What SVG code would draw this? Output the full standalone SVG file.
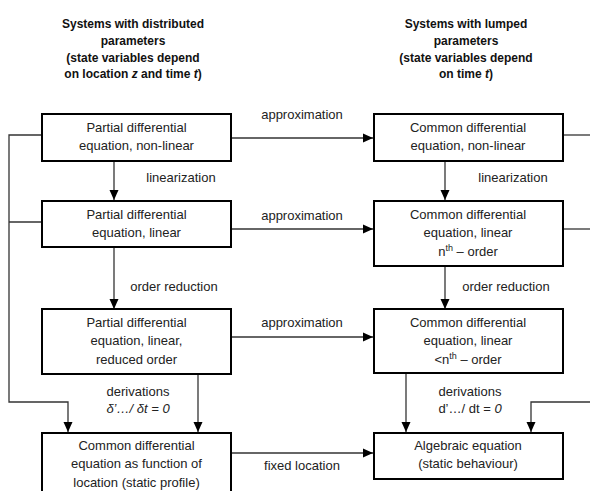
<svg xmlns="http://www.w3.org/2000/svg" width="590" height="491" viewBox="0 0 590 491">
<style>
text{font-family:"Liberation Sans",Arial,sans-serif;font-size:13px;fill:#222;text-anchor:middle}
.h{font-weight:bold;font-size:12px;fill:#111}
.box{fill:#fff;stroke:#000;stroke-width:2}
.c{fill:none;stroke:#333;stroke-width:1.3}
.a{marker-end:url(#arr)}
.i{font-style:italic}
</style>
<defs>
<marker id="arr" markerUnits="userSpaceOnUse" markerWidth="10" markerHeight="10" viewBox="0 0 10 10" refX="10" refY="5" orient="auto">
<path d="M0,0.5 L10,5 L0,9.5 Z" fill="#000"/>
</marker>
</defs>
<g id="headers">
<text class="h" x="133" y="28">Systems with distributed</text>
<text class="h" x="133" y="45">parameters</text>
<text class="h" x="133" y="62">(state variables depend</text>
<text class="h" x="133" y="78">on location <tspan class="i">z</tspan> and time <tspan class="i">t</tspan>)</text>
<text class="h" x="466" y="28">Systems with lumped</text>
<text class="h" x="466" y="45">parameters</text>
<text class="h" x="466" y="62">(state variables depend</text>
<text class="h" x="466" y="78">on time <tspan class="i">t</tspan>)</text>
</g>
<g id="connectors">
<path class="c a" d="M42,135 H9 V402 H68 V432"/>
<path class="c" d="M42,222 H9"/>
<path class="c a" d="M114,161 V200"/>
<path class="c a" d="M114,247 V309"/>
<path class="c a" d="M198,374 V432"/>
<path class="c a" d="M231,138 H373"/>
<path class="c a" d="M231,229 H373"/>
<path class="c a" d="M231,337 H373"/>
<path class="c a" d="M231,453 H373"/>
<path class="c a" d="M445,161 V200"/>
<path class="c a" d="M445,266 V309"/>
<path class="c a" d="M406,373 V432"/>
<path class="c" d="M563,135 H590"/>
<path class="c" d="M563,229 H590"/>
<path class="c a" d="M590,402 H531 V432"/>
<text x="302" y="119">approximation</text>
<text x="302" y="220">approximation</text>
<text x="302" y="327">approximation</text>
<text x="302" y="470">fixed location</text>
<text x="181" y="182">linearization</text>
<text x="513" y="182">linearization</text>
<text x="174" y="291">order reduction</text>
<text x="506" y="291">order reduction</text>
<text x="138" y="396">derivations</text>
<text x="138" y="413" class="i">δ’…/ δt = 0</text>
<text x="470" y="396">derivations</text>
<text x="470" y="413">d’…/ dt = <tspan class="i">0</tspan></text>
</g>
<g id="pde-nonlinear">
<rect class="box" x="42" y="114" width="189" height="47"/>
<text x="136.5" y="132">Partial differential</text>
<text x="136.5" y="150">equation, non-linear</text>
</g>
<g id="pde-linear">
<rect class="box" x="42" y="201" width="189" height="46"/>
<text x="136.5" y="219">Partial differential</text>
<text x="136.5" y="237">equation, linear</text>
</g>
<g id="pde-reduced">
<rect class="box" x="42" y="309" width="189" height="65"/>
<text x="136.5" y="327">Partial differential</text>
<text x="136.5" y="345">equation, linear,</text>
<text x="136.5" y="364">reduced order</text>
</g>
<g id="ode-location">
<rect class="box" x="42" y="433" width="189" height="70"/>
<text x="136.5" y="450">Common differential</text>
<text x="136.5" y="468">equation as function of</text>
<text x="136.5" y="487">location (static profile)</text>
</g>
<g id="ode-nonlinear">
<rect class="box" x="374" y="114" width="189" height="47"/>
<text x="468" y="132">Common differential</text>
<text x="468" y="150">equation, non-linear</text>
</g>
<g id="ode-linear-n">
<rect class="box" x="374" y="201" width="189" height="65"/>
<text x="468" y="219">Common differential</text>
<text x="468" y="237">equation, linear</text>
<text x="468" y="256">n<tspan font-size="9" dy="-5">th</tspan><tspan dy="5"> – order</tspan></text>
</g>
<g id="ode-linear-reduced">
<rect class="box" x="374" y="309" width="189" height="64"/>
<text x="468" y="327">Common differential</text>
<text x="468" y="345">equation, linear</text>
<text x="468" y="364">&lt;n<tspan font-size="9" dy="-5">th</tspan><tspan dy="5"> – order</tspan></text>
</g>
<g id="algebraic">
<rect class="box" x="374" y="433" width="189" height="46"/>
<text x="468" y="450">Algebraic equation</text>
<text x="468" y="468">(static behaviour)</text>
</g>
</svg>
